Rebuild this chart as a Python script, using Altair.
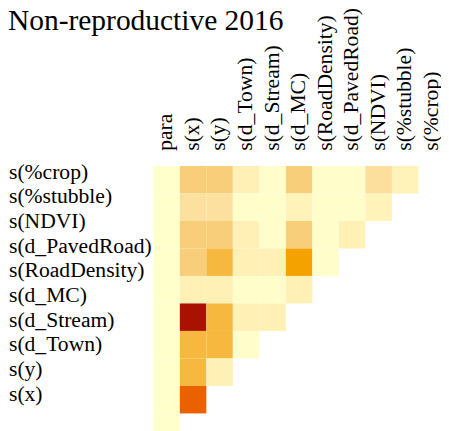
import altair as alt
import pandas as pd

title_text = "Non-reproductive 2016"

cols = ["para", "s(x)", "s(y)", "s(d_Town)", "s(d_Stream)", "s(d_MC)",
        "s(RoadDensity)", "s(d_PavedRoad)", "s(NDVI)", "s(%stubble)", "s(%crop)"]

rows = ["s(%crop)", "s(%stubble)", "s(NDVI)", "s(d_PavedRoad)", "s(RoadDensity)",
        "s(d_MC)", "s(d_Stream)", "s(d_Town)", "s(y)", "s(x)"]

# concurvity values, row by row (columns from 'para' onward, lower triangle)
v_crop = [0.00, 0.38, 0.38, 0.15, 0.02, 0.38, 0.02, 0.02, 0.28, 0.12]
v_stubble = [0.00, 0.27, 0.27, 0.02, 0.02, 0.12, 0.02, 0.02, 0.12]
v_ndvi = [0.00, 0.38, 0.38, 0.15, 0.02, 0.38, 0.02, 0.15]
v_paved = [0.00, 0.38, 0.48, 0.15, 0.15, 0.60, 0.02]
v_roaddens = [0.00, 0.15, 0.15, 0.02, 0.02, 0.15]
v_mc = [0.00, 0.98, 0.48, 0.15, 0.15]
v_stream = [0.00, 0.48, 0.48, 0.02]
v_town = [0.00, 0.48, 0.15]
v_y = [0.00, 0.78]
v_x = [0.00]

values = [v_crop, v_stubble, v_ndvi, v_paved, v_roaddens, v_mc, v_stream, v_town, v_y, v_x]

color_domain = [0, 0.15, 0.27, 0.38, 0.48, 0.6, 0.78, 1.0]
color_range = ["#FFFFCC", "#FFF0B6", "#FCE0A0", "#F8CE7A", "#F6B83F",
               "#F4A200", "#EA6200", "#A20000"]

recs = []
for r, vals in zip(rows, values):
    for c, v in zip(cols, vals):
        recs.append({"row": r, "col": c, "value": v})
df = pd.DataFrame(recs)

font = "Liberation Serif"

cells = alt.Chart(df).mark_rect().encode(
    x=alt.X("col:N", sort=cols,
            scale=alt.Scale(domain=cols, range=[0, 297], paddingInner=0, paddingOuter=0),
            axis=alt.Axis(orient="top", title=None, labelAngle=-90, ticks=False,
                          domain=False, labelPadding=16, labelFont=font,
                          labelFontSize=22, labelColor="black", labelOverlap=False,
                          labelLimit=300, labelOffset=-1)),
    y=alt.Y("row:N", sort=rows,
            scale=alt.Scale(domain=rows, range=[0, 280], paddingInner=0, paddingOuter=0),
            axis=None),
    color=alt.Color("value:Q",
                    scale=alt.Scale(domain=color_domain, range=color_range),
                    legend=None),
)

labels = alt.Chart(pd.DataFrame({"row": rows})).mark_text(
    align="left", baseline="middle", font=font, fontSize=22, color="black"
).encode(
    y=alt.Y("row:N", sort=rows,
            scale=alt.Scale(type="point", domain=rows, range=[6, 232], padding=0),
            axis=None),
    x=alt.value(-147),
    text="row:N",
)

title = alt.Chart(pd.DataFrame({"t": [title_text]})).mark_text(
    align="left", baseline="alphabetic", font=font, fontSize=30, color="black"
).encode(
    text="t:N",
    x=alt.value(-148),
    y=alt.value(-138),
)

chart = alt.layer(cells, labels, title).resolve_scale(y="independent").properties(
    width=293,
    height=266,
    autosize=alt.AutoSizeParams(type="none"),
    padding={"left": 148, "top": 157, "right": 0, "bottom": 0},
    background="white",
).configure_view(stroke=None)

chart.save("out.html", embed_options={"renderer": "svg", "actions": False})
